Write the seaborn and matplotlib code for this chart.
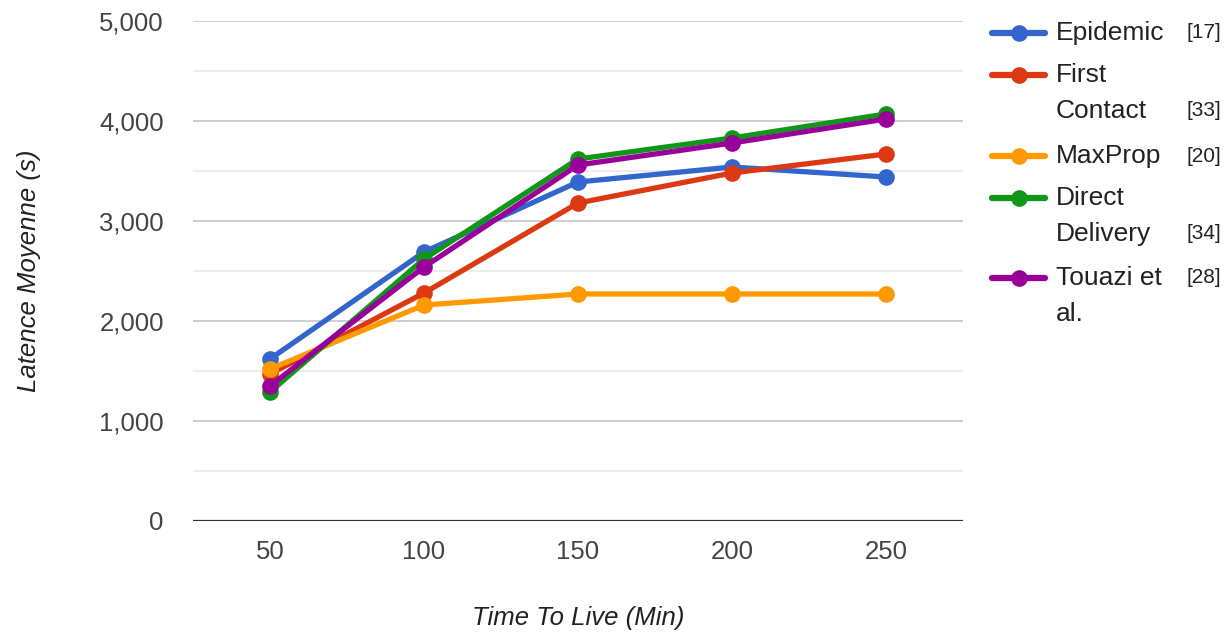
import matplotlib
matplotlib.use("Agg")
import matplotlib.pyplot as plt
from matplotlib.lines import Line2D
from matplotlib.ticker import FuncFormatter, MultipleLocator
import seaborn as sns
import pandas as pd

# Mean latency (s) per routing protocol vs. TTL (min)
ttl = [50, 100, 150, 200, 250]
epidemic = [1620, 2690, 3390, 3540, 3440]
first_contact = [1470, 2280, 3180, 3480, 3670]
maxprop = [1520, 2160, 2270, 2270, 2270]
direct_delivery = [1290, 2620, 3620, 3830, 4070]
touazi = [1350, 2540, 3560, 3780, 4020]

series_names = ["Epidemic", "First Contact", "MaxProp", "Direct Delivery", "Touazi et al."]
legend_lines = [["Epidemic"], ["First", "Contact"], ["MaxProp"], ["Direct", "Delivery"], ["Touazi et", "al."]]
legend_refs = ["[17]", "[33]", "[20]", "[34]", "[28]"]
ref_line_idx = [0, 1, 0, 1, 0]
colors = ["#3366cc", "#dc3912", "#ff9900", "#109618", "#990099"]

y_ticks = [0, 1000, 2000, 3000, 4000, 5000]

sns.set_theme(style="white")
plt.rcParams["font.family"] = ["Liberation Sans", "DejaVu Sans"]

rows = []
for name, vals in zip(series_names, [epidemic, first_contact, maxprop, direct_delivery, touazi]):
    for t, v in zip(ttl, vals):
        rows.append({"ttl": t, "latency": v, "protocol": name})
df = pd.DataFrame(rows)

W, H = 1231, 634
fig = plt.figure(figsize=(W / 100, H / 100), dpi=100)
ax = fig.add_axes([193 / W, 1 - 521 / H, (963 - 193) / W, (521 - 21) / H])

# minor and major gridlines
ax.set_ylim(0, 5000)
ax.set_xlim(25, 275)
ax.yaxis.set_major_locator(MultipleLocator(1000))
ax.yaxis.set_minor_locator(MultipleLocator(500))
ax.grid(which="minor", axis="y", color="#ebebeb", linewidth=1.3)
ax.grid(which="major", axis="y", color="#cccccc", linewidth=1.3)
ax.set_axisbelow(True)

sns.lineplot(data=df, x="ttl", y="latency", hue="protocol", hue_order=series_names,
             palette=colors, marker="o", markersize=12, markeredgewidth=0,
             linewidth=3.8, legend=False, ax=ax, zorder=3)

ax.axhline(0, color="#333333", linewidth=1.6, zorder=2)

for s in ax.spines.values():
    s.set_visible(False)

ax.set_xticks(ttl)
ax.set_xticklabels([str(t) for t in ttl])
ax.set_yticks(y_ticks)
ax.yaxis.set_major_formatter(FuncFormatter(lambda v, p: f"{int(v):,}"))
ax.tick_params(axis="both", which="both", length=0, labelsize=18.5, labelcolor="#444444")
ax.tick_params(axis="x", pad=14)
ax.tick_params(axis="y", pad=21)

ax.set_xlabel("Time To Live (Min)", fontsize=18.5, fontstyle="italic", color="#222222", labelpad=30)
ax.set_ylabel("Latence Moyenne (s)", fontsize=18.5, fontstyle="italic", color="#222222", labelpad=42)

# legend on the right, handle aligned with first line of each label
entry_tops = [33, 75, 156, 198, 278]
line_gap = 36
for i, (lines, ref, col) in enumerate(zip(legend_lines, legend_refs, colors)):
    y0 = entry_tops[i]
    yf = 1 - y0 / H
    fig.add_artist(Line2D([992 / W, 1045 / W], [yf, yf], color=col, linewidth=4.5,
                          transform=fig.transFigure))
    fig.add_artist(Line2D([1019 / W], [yf], color=col, marker="o", markersize=12,
                          markeredgewidth=0, transform=fig.transFigure))
    for j, txt in enumerate(lines):
        fig.text(1056 / W, 1 - (y0 + j * line_gap) / H, txt, fontsize=19,
                 color="#222222", va="center", ha="left")
    yr = y0 + ref_line_idx[i] * line_gap
    fig.text(1221 / W, 1 - yr / H, ref, fontsize=15, color="#222222",
             va="center", ha="right")

fig.savefig("out.png", dpi=100)
